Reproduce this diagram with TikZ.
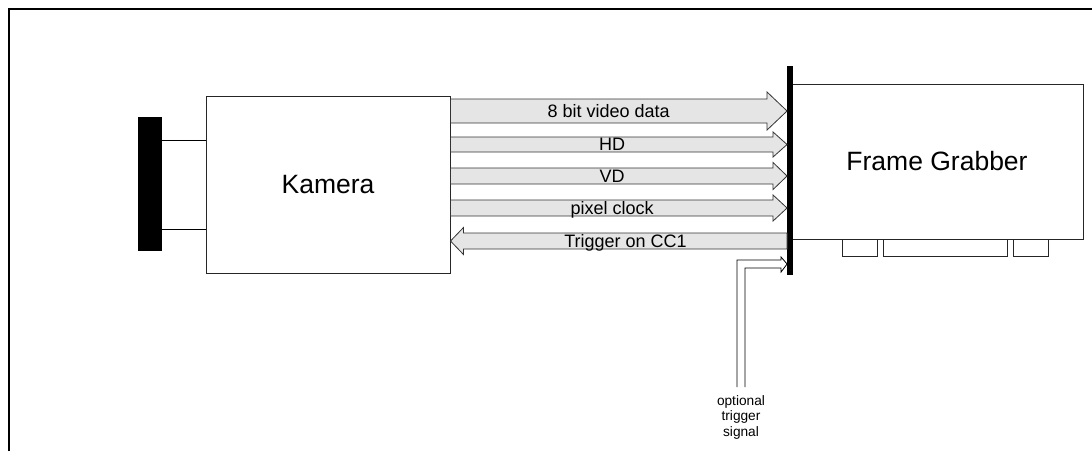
\documentclass[tikz,border=0pt]{standalone}
\usepackage{fontspec}
\setmainfont{Liberation Sans}
\usetikzlibrary{calc}

% block arrow from the camera to the grabber: name, y, half body, half head, head length
\newcommand{\rsig}[5]{%
  \coordinate (#1y) at (0,#2);
  \coordinate (#1s) at (kam.east |- #1y);
  \coordinate (#1t) at (bar.west |- #1y);
  \draw[sig] ($(#1s)+(0,-#3)$) -- ($(#1t)+(-#5,-#3)$) -- ($(#1t)+(-#5,-#4)$) -- (#1t)
    -- ($(#1t)+(-#5,#4)$) -- ($(#1t)+(-#5,#3)$) -- ($(#1s)+(0,#3)$) -- cycle;}
% block arrow back to the camera
\newcommand{\lsig}[5]{%
  \coordinate (#1y) at (0,#2);
  \coordinate (#1s) at (bar.west |- #1y);
  \coordinate (#1t) at (kam.east |- #1y);
  \draw[sig] ($(#1s)+(0,-#3)$) -- ($(#1t)+(#5,-#3)$) -- ($(#1t)+(#5,-#4)$) -- (#1t)
    -- ($(#1t)+(#5,#4)$) -- ($(#1t)+(#5,#3)$) -- ($(#1s)+(0,#3)$) -- cycle;}

\begin{document}
\begin{tikzpicture}[x=1pt, y=-1pt,
  box/.style={rectangle, draw=black!85, line width=1pt, inner sep=0pt, font=\fontsize{26.5}{30}\selectfont},
  pin/.style={rectangle, draw=black!85, line width=1pt, minimum width=35pt, minimum height=17pt, inner sep=0pt, anchor=north},
  sig/.style={draw=black!80, fill=gray!20, line width=0.8pt},
  lbl/.style={inner sep=0pt, text height=12.9pt, text depth=0pt, font=\fontsize{18}{20}\selectfont},
  hollow/.style={draw=black, fill=white, line width=0.8pt}
]
  \useasboundingbox (0,0) rectangle (1092,451);

  % outer frame (only top and left edge visible)
  \draw[line width=2.6pt] (9,451) -- (9,9) -- (1092,9);

  % camera with lens
  \node[box, minimum width=244pt, minimum height=177pt] (kam) at (328,184.5) {Kamera};
  \node[fill=black, inner sep=0pt, minimum width=24pt, minimum height=134pt] (lens) at (150,184) {};
  \coordinate (ltop) at (0,140);
  \coordinate (lbot) at (0,229);
  \draw[line width=1pt] (lens.east |- ltop) -- (kam.west |- ltop);
  \draw[line width=1pt] (lens.east |- lbot) -- (kam.west |- lbot);

  % frame grabber card, slot bracket and edge connector
  \node[box, minimum width=292pt, minimum height=155pt] (fg) at (937,161.5) {Frame Grabber};
  \node[pin] (pin1) at (859.5,239) {};
  \node[pin, minimum width=124pt] (pin2) at (945,239) {};
  \node[pin] (pin3) at (1030.5,239) {};
  \node[fill=black, inner sep=0pt, minimum width=5.5pt, minimum height=209pt] (bar) at (790,170.5) {};

  % signals
  \rsig{vid}{111}{12}{19}{20}
  \node[lbl] (vidl) at ($(vids)!0.47!(vidt)$) {8 bit video data};
  \rsig{hd}{144.5}{7.5}{12.5}{14}
  \node[lbl] (hdl) at ($(hds)!0.48!(hdt)$) {HD};
  \rsig{vd}{176}{8}{13.5}{14}
  \node[lbl] (vdl) at ($(vds)!0.48!(vdt)$) {VD};
  \rsig{pix}{208}{8}{13}{14}
  \node[lbl] (pixl) at ($(pixs)!0.48!(pixt)$) {pixel clock};
  \lsig{trg}{241}{8}{13.5}{13}
  \node[lbl] (trgl) at ($(trgt)!0.52!(trgs)$) {Trigger on CC1};

  % optional external trigger
  \coordinate (trig) at (741,387);
  \coordinate (tty) at (0,264);
  \coordinate (ttip) at (bar.west |- tty);
  \draw[hollow] ($(trig)+(-4,0)$) |- ($(ttip)+(-6,-4)$) -- ++(0,-3) -- (ttip)
    -- ($(ttip)+(-6,8)$) -- ++(0,-4) -| ($(trig)+(4,0)$);
  \node[align=center, inner sep=0pt, anchor=north, font=\fontsize{13.7}{15.5}\selectfont] (trigl) at ($(trig)+(0,8)$) {optional\\trigger\\signal};
\end{tikzpicture}
\end{document}
